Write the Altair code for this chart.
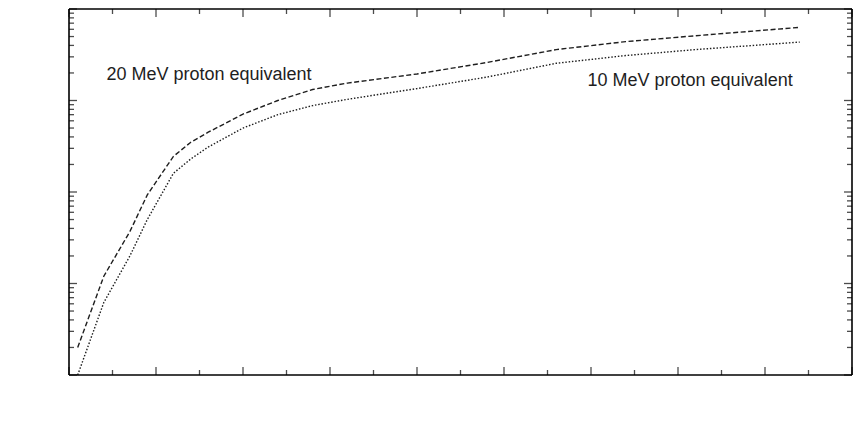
import altair as alt
import pandas as pd

# Atomic mass numbers sampled along the curves
mass = [1, 4, 7, 9, 12, 14, 16, 20, 24, 28, 32, 40, 48, 56, 64, 72, 84]
# Kinetic energy [GeV/amu], 20 MeV proton equivalent (dashed)
e20 = [0.02, 0.12, 0.37, 0.93, 2.45, 3.5, 4.5, 7.1, 10.0, 13.2, 15.5, 19.5, 26.0, 36.0, 44.0, 51.0, 63.0]
# Kinetic energy [GeV/amu], 10 MeV proton equivalent (dotted)
e10 = [0.01, 0.062, 0.2, 0.5, 1.6, 2.3, 3.1, 5.0, 7.0, 8.8, 10.3, 13.5, 18.0, 25.5, 31.0, 36.0, 43.5]

series_names = ["20 MeV", "10 MeV"]
label_text = ["20 MeV proton equivalent", "10 MeV proton equivalent"]
label_x = [4.3, 59.6]
label_y = [19.0, 16.5]

x_domain = [0, 90]
y_domain = [0.01, 100]
x_major = list(range(0, 91, 10))
x_minor = list(range(5, 90, 10))
y_major = [0.01, 0.1, 1, 10, 100]
y_minor = [k * 10.0 ** e for e in range(-2, 2) for k in range(2, 10)]

rows = []
for a, v in zip(mass, e20):
    rows.append({"A": a, "E": v, "kind": series_names[0], "text": ""})
for a, v in zip(mass, e10):
    rows.append({"A": a, "E": v, "kind": series_names[1], "text": ""})
for a, v, t in zip(label_x, label_y, label_text):
    rows.append({"A": a, "E": v, "kind": "label", "text": t})
df = pd.DataFrame(rows)

# frame edges along the scale domains
frame_df = pd.DataFrame({
    "x": [x_domain[0], x_domain[0], x_domain[0], x_domain[1]],
    "x2": [x_domain[1], x_domain[1], x_domain[0], x_domain[1]],
    "y": [y_domain[0], y_domain[1], y_domain[0], y_domain[0]],
    "y2": [y_domain[0], y_domain[1], y_domain[1], y_domain[1]],
})

FONT = "Liberation Sans"
xs = alt.Scale(domain=x_domain, nice=False, zero=False)
ys = alt.Scale(type="log", domain=y_domain, nice=False)

ylab = ("'10' + (round(log(datum.value)/LN10) == 2 ? '²' : round(log(datum.value)/LN10) == 1 ? '¹' : "
        "round(log(datum.value)/LN10) == 0 ? '⁰' : round(log(datum.value)/LN10) == -1 ? '⁻¹' : '⁻²')")

NB = "\u00a0"
ytitle = "Kinetic energy" + NB * 4 + "[GeV/amu]"

base = alt.Chart(df)

line20 = base.transform_filter(alt.datum.kind == series_names[0]).mark_line(
    color="#1e1e1e", strokeWidth=1.4, strokeDash=[5, 2.5]).encode(
    x=alt.X("A:Q", scale=xs, axis=alt.Axis(
        values=x_major, ticks=False, domain=False, grid=False,
        labelFont=FONT, labelFontSize=16, labelFontWeight="bold", labelColor="black",
        labelPadding=3, title="Atomic mass number", titleFont=FONT, titleFontSize=17,
        titleFontWeight="normal", titleColor="black", titlePadding=8)),
    y=alt.Y("E:Q", scale=ys, axis=alt.Axis(
        values=y_major, labelExpr=ylab, ticks=False, domain=False,
        grid=False, labelFont=FONT, labelFontSize=16, labelFontWeight="bold", labelColor="black",
        labelPadding=6, title=ytitle, titleFont=FONT, titleFontSize=17,
        titleFontWeight="normal", titleColor="black", titlePadding=9)),
)

line10 = base.transform_filter(alt.datum.kind == series_names[1]).mark_line(
    color="#1e1e1e", strokeWidth=1.4, strokeDash=[1.5, 1.8]).encode(
    x=alt.X("A:Q", scale=xs, axis=None),
    y=alt.Y("E:Q", scale=ys, axis=None),
)

texts = base.transform_filter(alt.datum.kind == "label").mark_text(
    align="left", baseline="middle", font=FONT, fontSize=18, color="#1e1e1e").encode(
    x=alt.X("A:Q", scale=xs, axis=None),
    y=alt.Y("E:Q", scale=ys, axis=None),
    text="text:N",
)

frame = alt.Chart(frame_df).mark_rule(color="black", strokeWidth=1.6).encode(
    x=alt.X("x:Q", scale=xs, axis=None),
    x2="x2:Q",
    y=alt.Y("y:Q", scale=ys, axis=None),
    y2="y2:Q",
)


def x_ticks(vals, edge, size, inward):
    d = pd.DataFrame({"t": vals, "e": [edge] * len(vals)})
    return alt.Chart(d).mark_tick(orient="vertical", size=size, thickness=1.3, color="black",
                                  yOffset=inward * size / 2).encode(
        x=alt.X("t:Q", scale=xs, axis=None),
        y=alt.Y("e:Q", scale=ys, axis=None),
    )


def y_ticks(vals, edge, size, inward):
    d = pd.DataFrame({"t": vals, "e": [edge] * len(vals)})
    return alt.Chart(d).mark_tick(orient="horizontal", size=size, thickness=1.3, color="black",
                                  xOffset=inward * size / 2).encode(
        x=alt.X("e:Q", scale=xs, axis=None),
        y=alt.Y("t:Q", scale=ys, axis=None),
    )


chart = alt.layer(
    line20,
    line10,
    frame,
    x_ticks(x_major, y_domain[0], 8, -1),
    x_ticks(x_minor, y_domain[0], 5, -1),
    x_ticks(x_major, y_domain[1], 8, 1),
    x_ticks(x_minor, y_domain[1], 5, 1),
    y_ticks(y_major, x_domain[0], 8, 1),
    y_ticks(y_minor, x_domain[0], 5, 1),
    y_ticks(y_major, x_domain[1], 8, -1),
    y_ticks(y_minor, x_domain[1], 5, -1),
    texts,
).properties(
    width=783, height=366,
    autosize=alt.AutoSizeParams(type="none"),
    padding={"left": 69, "top": 9, "right": 16, "bottom": 58},
).configure_view(strokeWidth=0)

chart.save("out.html", embed_options={"renderer": "svg", "actions": False})
